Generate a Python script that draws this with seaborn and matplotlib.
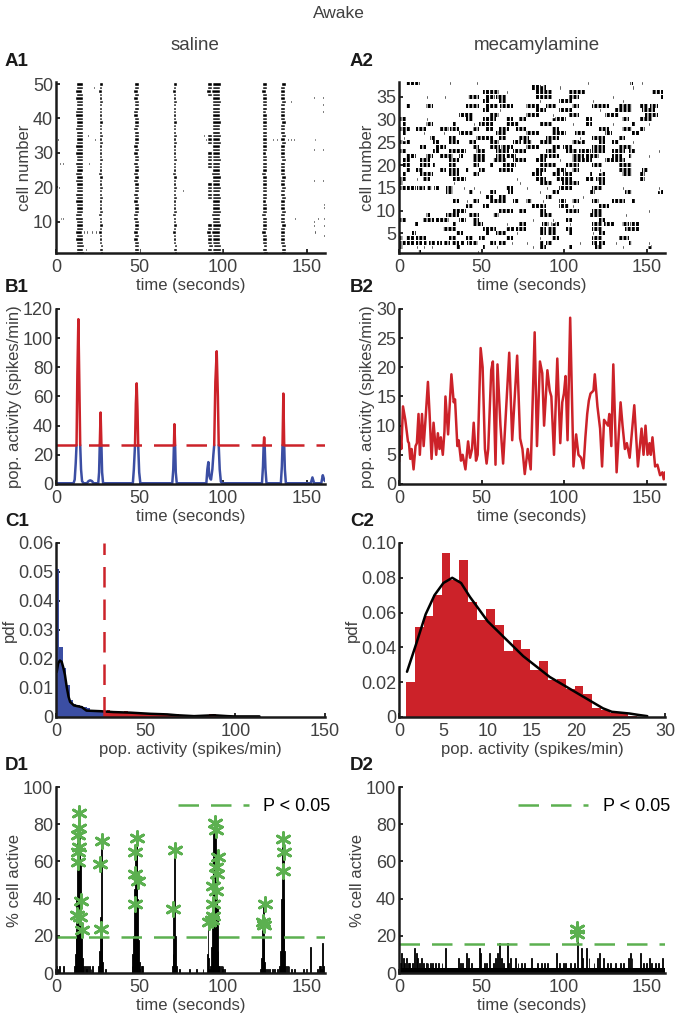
import numpy as np
import matplotlib
matplotlib.use("Agg")
import matplotlib.pyplot as plt
from matplotlib.lines import Line2D
import seaborn as sns

sns.set_theme(style="ticks")
plt.rcParams["font.family"] = ["Liberation Sans", "DejaVu Sans"]
plt.rcParams["hatch.linewidth"] = 0.9

RED = "#cc2229"
BLUE = "#3b4ea3"
GREEN = "#5cb050"
GREY = "#404040"

# ---------------- data ----------------
# A1 saline raster: burst windows (s), per-cell onset lag (s), extra spikes
a1_bursts = [(11.6, 16.0), (25.6, 27.6), (46.3, 49.3), (69.9, 71.9),
             (93.2, 98.2), (123.2, 126.1), (134.1, 137.1)]
a1_lag = [0.6, 0.3, 0.5, 0.1, 0.0, 0.2, -0.3, 0.1, 0.4, 0.2,
          0.0, -0.2, 0.3, 0.1, 0.2, -0.1, 0.3, 0.0, 0.2, 0.4,
          0.1, 0.0, 0.3, -0.2, 0.1, 0.2, 0.0, 0.3, 0.1, -0.1,
          0.2, 0.0, 0.3, 0.1, 0.4, 0.2, 0.0, 0.1, 0.3, 0.2,
          0.0, -0.1, 0.2, 0.1, 0.3, 0.0, 0.2, -0.2, 0.1, 0.3]
a1_early_window = (90.2, 93.2)
a1_early_cells = [2, 3, 4, 5, 6, 7, 8, 9, 17, 18, 19, 20, 21, 26, 27, 28,
                  29, 30, 33, 34, 35, 47, 48, 49, 50]
a1_extra_t = [0.8, 2.0, 3.6, 1.4, 2.4, 3.8, 17.4, 21.4, 16.4, 18.0, 19.6, 21.2,
              23.4, 18.8, 21.4, 22.8, 19.4, 22.4, 52.4, 53.6, 73.4, 75.4, 82.4,
              88.0, 86.6, 89.2, 100.4, 102.2, 129.4, 131.6, 138.4, 140.2, 141.8,
              130.8, 140.0, 142.4, 146.4, 153.8, 154.4, 155.4, 153.8, 153.8,
              153.8, 153.8, 154.4, 156.4, 159.4, 159.4, 159.4, 159.4, 159.0,
              159.4, 160.0, 160.0, 160.0, 160.0, 160.0]
a1_extra_cell = [34, 27, 27, 20, 11, 11, 2, 4, 7, 7, 7, 7, 7, 35, 34, 34, 27, 49,
                 14, 14, 19, 19, 3, 35, 34, 34, 47, 47, 34, 34, 34, 34, 34,
                 4, 45, 11, 1, 46, 34, 34, 31, 22, 10, 9, 7, 11, 42, 44, 46, 31,
                 26, 22, 15, 14, 11, 9, 6]

# A2 mecamylamine raster: firing intervals (start, end) in s for cells 1..38
a2_cells = [
    [(11.6, 13.6), (47.2, 48.0), (96.6, 97.4), (145.6, 146.4)],
    [(0.4, 2.4), (10.4, 11.2), (14.5, 15.3), (19.5, 20.3), (34.5, 37.5), (50.6, 52.6),
     (58.6, 59.4), (68.7, 69.5), (80.7, 81.5), (84.7, 88.8), (102.8, 104.8),
     (112.9, 113.7), (118.9, 122.9), (126.9, 127.7), (134.9, 135.7), (139.0, 139.8),
     (151.0, 153.0)],
    [(0.4, 4.0), (5.0, 9.0), (10.0, 14.0), (15.0, 17.0), (18.0, 22.0), (23.0, 26.0),
     (27.0, 31.0), (32.0, 36.0), (37.0, 40.0), (41.0, 44.0), (45.0, 48.0),
     (54.6, 58.6), (60.6, 64.7), (67.7, 68.5), (76.7, 77.5), (84.7, 88.0),
     (89.0, 92.8), (100.8, 101.6), (108.8, 109.6), (116.9, 120.0), (121.0, 124.9),
     (130.9, 131.7), (139.0, 141.0), (151.0, 151.8)],
    [(0.4, 2.4), (4.4, 9.0), (10.0, 16.5), (30.5, 34.5), (40.6, 44.6), (48.6, 52.6),
     (64.7, 68.7), (84.7, 85.5), (92.8, 96.8), (116.9, 122.9), (132.9, 139.0)],
    [(8.0, 10.0), (24.5, 25.3), (34.5, 38.6), (52.6, 54.6), (58.6, 64.7), (70.7, 71.5),
     (84.7, 89.0), (90.0, 94.8), (102.8, 104.8), (116.9, 117.7), (120.9, 124.9),
     (145.0, 145.8)],
    [(26.5, 34.5), (50.6, 58.6), (64.7, 70.0), (71.0, 76.7), (84.7, 89.0),
     (90.0, 94.8), (100.8, 104.8), (116.9, 122.9), (136.9, 145.0)],
    [(9.6, 11.6), (32.5, 34.5), (44.6, 50.6), (64.7, 65.5), (72.7, 76.7),
     (86.7, 91.0), (92.0, 96.8), (102.8, 103.6), (116.9, 123.0), (124.0, 130.9),
     (134.9, 139.0), (140.0, 145.0)],
    [(0.4, 4.4), (14.5, 21.0), (22.0, 30.5), (36.5, 40.6), (44.6, 48.6), (68.7, 69.5),
     (80.7, 81.5), (92.8, 93.6), (100.8, 104.8), (120.9, 124.9)],
    [(16.5, 18.5), (28.5, 36.5), (42.6, 48.6), (56.6, 60.6), (84.7, 92.8),
     (114.9, 122.9), (136.9, 137.7)],
    [(32.5, 40.6), (60.6, 68.7), (72.7, 76.7), (84.7, 88.8), (100.8, 108.8),
     (116.9, 122.9), (151.0, 151.8)],
    [(40.6, 44.6), (50.6, 54.6), (80.7, 88.8), (96.8, 102.8), (104.8, 105.6),
     (120.9, 126.9)],
    [(32.5, 36.5), (40.6, 41.4), (44.6, 48.6), (54.6, 64.7), (68.7, 72.7),
     (76.7, 80.7), (86.7, 87.5), (96.8, 100.8), (104.8, 108.8), (116.9, 120.9),
     (128.9, 136.9), (141.0, 143.0)],
    [(52.6, 56.6), (60.6, 64.7), (88.8, 92.8), (110.8, 111.6)],
    [(28.5, 32.5), (42.6, 44.6), (48.6, 49.4), (54.6, 58.6), (65.7, 68.7),
     (84.7, 85.5), (92.8, 96.8), (114.9, 118.9), (136.9, 141.0), (157.0, 160.0)],
    [(0.4, 4.4), (5.0, 10.0), (11.0, 16.0), (17.0, 20.0), (21.0, 24.5), (28.5, 32.5),
     (38.6, 39.4), (44.6, 45.4), (64.7, 68.7), (76.7, 77.5), (88.8, 89.6),
     (96.8, 104.8), (116.9, 122.9), (134.9, 135.7), (145.0, 145.8), (157.0, 157.8)],
    [(0.4, 2.4), (12.4, 13.2), (24.5, 25.3), (32.5, 33.3), (50.6, 51.4), (72.7, 73.5),
     (84.7, 92.8), (98.8, 108.8), (120.9, 124.9), (145.0, 145.8)],
    [(0.4, 4.4), (10.4, 11.2), (14.5, 18.5), (32.5, 40.6), (56.6, 57.4), (70.7, 71.5),
     (82.7, 88.8), (94.8, 104.8), (112.9, 118.0), (119.0, 124.9), (145.0, 149.0)],
    [(2.4, 4.4), (12.4, 20.5), (30.5, 36.5), (44.6, 48.6), (80.7, 86.7),
     (92.8, 98.0), (99.0, 104.8), (114.9, 116.9), (120.9, 124.9), (134.9, 141.0),
     (145.0, 149.0)],
    [(4.4, 6.4), (10.4, 14.5), (24.5, 28.5), (30.5, 36.5), (40.6, 42.6), (48.6, 52.6),
     (60.6, 68.7), (82.7, 88.8), (94.8, 100.8), (104.8, 108.8), (120.9, 121.7),
     (132.9, 141.0), (147.0, 151.0)],
    [(2.4, 6.4), (12.4, 18.5), (20.5, 22.5), (30.5, 34.5), (44.6, 48.6), (54.6, 56.6),
     (62.7, 70.7), (84.7, 94.8), (100.8, 108.8), (116.9, 122.9), (132.9, 141.0)],
    [(2.4, 6.4), (12.4, 18.5), (30.5, 36.5), (44.6, 52.6), (56.6, 64.7), (68.7, 76.7),
     (82.7, 88.8), (96.8, 97.6), (104.8, 110.0), (111.0, 116.9), (124.9, 130.0),
     (131.0, 136.9)],
    [(4.4, 10.4), (16.5, 20.5), (24.5, 32.5), (36.5, 38.6), (44.6, 52.6),
     (58.6, 64.0), (65.0, 70.7), (84.7, 90.0), (91.0, 96.8), (104.8, 112.0),
     (113.0, 120.9), (128.9, 134.9), (139.0, 141.0), (151.0, 151.8)],
    [(0.4, 4.4), (20.5, 24.5), (30.5, 40.6), (46.6, 52.6), (58.6, 66.7), (68.7, 76.7),
     (88.8, 94.8), (100.8, 108.0), (109.0, 116.0), (117.0, 124.9), (128.9, 136.9),
     (139.0, 143.0), (157.0, 157.8)],
    [(12.4, 16.5), (22.5, 28.5), (44.6, 48.6), (54.6, 61.0), (62.0, 68.7),
     (76.7, 84.7), (92.8, 98.0), (99.0, 104.8), (116.9, 124.9), (132.9, 141.0)],
    [(0.4, 6.4), (20.5, 24.5), (30.5, 36.5), (42.6, 46.6), (54.6, 60.6), (68.7, 74.0),
     (75.0, 80.7), (84.7, 92.8), (104.8, 112.9), (120.9, 124.9), (128.9, 132.9),
     (141.0, 141.8)],
    [(2.4, 3.2), (18.5, 22.5), (30.5, 34.5), (46.6, 56.6), (60.6, 64.7), (72.7, 78.7),
     (88.8, 96.8), (108.8, 109.6), (116.9, 124.9), (132.9, 136.9)],
    [(2.4, 4.4), (14.5, 15.3), (26.5, 27.3), (36.5, 44.6), (58.6, 64.7), (76.7, 84.7),
     (92.8, 100.8), (106.8, 112.9), (124.9, 128.9), (141.0, 145.0)],
    [(0.4, 6.4), (10.4, 16.5), (24.5, 30.0), (31.0, 36.5), (44.6, 48.6), (52.6, 56.6),
     (60.6, 66.7), (70.7, 76.7), (92.8, 96.8), (120.9, 126.9), (134.9, 141.0),
     (145.0, 149.0)],
    [(2.4, 4.4), (16.5, 20.5), (32.5, 34.5), (44.6, 45.4), (48.6, 56.6), (64.7, 72.7),
     (84.7, 92.8), (104.8, 105.6), (112.9, 116.9), (128.9, 129.7), (141.0, 143.0),
     (151.0, 151.8)],
    [(0.4, 4.4), (6.4, 7.2), (16.5, 17.3), (40.6, 44.6), (50.6, 58.6), (64.7, 68.7),
     (72.7, 76.7), (92.8, 100.8), (112.9, 116.9), (134.9, 139.0), (145.0, 153.0)],
    [(24.5, 25.3), (36.5, 44.6), (54.6, 60.6), (76.7, 84.7), (92.8, 93.6),
     (102.8, 108.8), (124.9, 132.9), (149.0, 157.0)],
    [(50.6, 54.6), (60.6, 61.4), (68.7, 69.5), (82.7, 88.8), (96.8, 104.8),
     (120.9, 121.7), (130.9, 141.0), (147.0, 155.0)],
    [(4.4, 6.4), (16.5, 20.5), (40.6, 48.6), (52.6, 60.0), (61.0, 68.7), (76.7, 84.7),
     (88.8, 94.8), (104.8, 108.8), (116.9, 126.9), (132.9, 141.0), (145.0, 151.0),
     (152.0, 157.0)],
    [(50.6, 54.6), (60.6, 64.7), (84.7, 85.5), (96.8, 104.8), (116.9, 117.7),
     (134.9, 135.7)],
    [(3.4, 4.2), (6.4, 7.2), (16.5, 17.3), (18.5, 19.3), (27.5, 28.3), (41.6, 48.6),
     (52.6, 58.0), (59.0, 64.7), (82.7, 92.8), (102.8, 108.8), (128.9, 129.7),
     (145.0, 145.8), (158.0, 160.0)],
    [(50.6, 60.6), (64.7, 65.5), (82.7, 92.8), (102.8, 112.9), (135.9, 136.7),
     (153.0, 160.0)],
    [(80.7, 88.8), (96.8, 97.6), (141.0, 141.8), (145.0, 145.8)],
    [(4.4, 12.4), (30.5, 31.3), (46.6, 47.4), (65.7, 66.5), (85.7, 86.5),
     (113.9, 114.7), (140.0, 141.6), (146.6, 147.4)],
]

# B1 saline population activity (spikes/min)
b1_t = [0, 10.5, 11.2, 11.8, 12.3, 12.8, 13.4, 13.9, 14.5, 15.0, 15.6, 16.5,
        18.5, 19.5, 20.5, 21.5, 22.5, 25.3, 25.8, 26.2, 26.7, 27.2, 27.6, 28.2,
        46.0, 46.6, 47.3, 47.8, 48.3, 48.8, 49.2, 49.8, 50.5,
        69.6, 70.2, 70.6, 70.9, 71.3, 71.7, 72.3,
        90.0, 90.6, 91.2, 91.7, 92.2, 92.8, 93.6, 94.2, 94.7, 95.4, 96.2, 96.9,
        97.4, 98.0, 98.7, 99.5,
        123.3, 123.9, 124.3, 124.6, 124.9, 125.4, 126.0,
        134.6, 135.2, 135.6, 136.1, 136.6, 137.0, 137.6,
        152.5, 153.5, 154.5, 158.8, 159.7, 160.5, 161.0]
b1_v = [0.5, 0.5, 3, 14, 26.6, 75, 113, 75, 26.6, 10, 2, 0.5,
        0.5, 2, 2.5, 2, 0.5, 0.5, 8, 26.6, 49, 26.6, 8, 0.5,
        0.5, 10, 26.6, 55, 69, 50, 26.6, 8, 0.5,
        0.5, 10, 26.6, 41, 26.6, 8, 0.5,
        0.5, 10, 15, 6, 4, 3, 10, 20, 26.6, 70, 91, 60,
        26.6, 10, 1.5, 0.5,
        0.5, 12, 26.6, 32, 26.6, 10, 0.5,
        0.5, 12, 26.6, 62, 26.6, 10, 0.5,
        0.5, 4.5, 0.5, 0.5, 6, 3, 2]
b1_threshold = 26.6

# B2 mecamylamine population activity (spikes/min)
b2_t = [0, 0.8, 1.4, 2.4, 3.8, 5.4, 6.0, 6.8, 7.6, 8.8, 10.0, 10.8, 11.8, 12.6,
        13.9, 14.9, 15.9, 17.5, 18.5, 19.7, 20.9, 22.5, 23.5, 24.5, 25.3, 26.5,
        27.5, 28.1, 29.7, 31.7, 33.1, 33.9, 35.3, 36.1, 37.5, 38.5, 40.2, 41.8,
        43.0, 44.2, 45.2, 46.6, 47.6, 49.4, 50.6, 52.0, 53.0, 54.0, 55.8, 56.8,
        58.4, 59.6, 61.4, 63.0, 66.7, 68.5, 71.5, 73.3, 74.7, 76.1, 77.9, 79.7,
        82.1, 83.5, 85.3, 86.7, 87.8, 89.8, 91.2, 92.2, 93.8, 95.8, 97.6, 98.8,
        99.8, 100.8, 102.0, 103.6, 105.6, 107.2, 108.6, 110.2, 111.6, 112.8,
        113.9, 114.9, 115.9, 117.7, 118.5, 120.1, 121.7, 122.9, 124.1, 126.5,
        127.3, 128.5, 129.7, 131.7, 134.1, 135.3, 136.7, 137.9, 139.6, 142.4,
        144.6, 146.8, 148.0, 149.2, 150.4, 151.6, 152.4, 153.4, 155.0, 156.4,
        158.0, 159.4, 160.2, 161.0]
b2_v = [3.8, 8.1, 6.0, 13.3, 11.0, 7.3, 7.0, 4.3, 6.0, 2.5, 6.5, 7.0, 12.0, 5.0,
        12.0, 6.5, 10.5, 17.5, 12.0, 4.3, 10.5, 5.0, 8.7, 6.0, 8.0, 5.0,
        9.0, 15.0, 8.5, 18.8, 14.0, 14.5, 6.5, 7.5, 4.0, 5.0, 2.5, 7.3,
        4.5, 6.0, 10.5, 4.0, 5.0, 23.3, 20.0, 6.0, 3.5, 6.0, 19.5, 21.0,
        3.3, 20.5, 10.0, 3.5, 22.5, 7.5, 22.0, 7.8, 6.0, 1.7, 6.0, 2.5,
        26.0, 6.5, 21.0, 19.0, 10.0, 19.5, 16.0, 15.0, 5.0, 21.5, 7.0, 14.0,
        15.5, 18.5, 7.5, 28.5, 3.0, 8.5, 5.0, 4.5, 2.7, 8.0,
        12.0, 14.3, 15.5, 16.0, 18.8, 13.3, 9.5, 3.0, 11.0, 10.0,
        12.0, 6.5, 20.5, 2.0, 14.0, 10.0, 6.0, 7.0, 4.5, 13.5,
        3.0, 9.5, 5.0, 10.0, 5.0, 7.0, 5.0, 8.0, 3.0, 3.3,
        1.5, 2.0, 0.8, 2.0]

# C1 saline histogram (pdf) and density curve
c1_bin_width = 1.9
c1_blue = [0.051, 0.024, 0.017, 0.011, 0.006, 0.0045, 0.004, 0.0038, 0.0035,
           0.003, 0.0025, 0.0022, 0.002, 0.002]
c1_red = [0.0022, 0.0025, 0.0020, 0.0019, 0.0018, 0.0018, 0.0020, 0.0017, 0.0016, 0.0017,
          0.0015, 0.0014, 0.0015, 0.0013, 0.0012, 0.0013, 0.0012, 0.0011, 0.0012, 0.0010,
          0.0011, 0.0009, 0.0008, 0.0007, 0.0006, 0.0005, 0.0004, 0.0004, 0.0005, 0.0006,
          0.0008, 0.0009, 0.0010, 0.0008, 0.0006, 0.0004, 0.0003, 0.0003, 0.0004, 0.0005,
          0.0004, 0.0003, 0.0003, 0.0004, 0.0003]
c1_kde_x = [0.4, 1.2, 2.2, 3.2, 4.1, 5.0, 6.0, 7.0, 7.9, 10.0, 14.4, 17.0, 24.7,
            32.0, 41.5, 52.7, 62.0, 67.7, 77.0, 88.0, 95.7, 99.4, 113.5]
c1_kde_y = [0.0155, 0.0185, 0.0195, 0.019, 0.017, 0.0145, 0.0103, 0.007, 0.0052,
            0.004, 0.0034, 0.0022, 0.002, 0.0017, 0.0015, 0.0011, 0.0009, 0.0006,
            0.0003, 0.0006, 0.0003, 0.0002, 0.0002]

# C2 mecamylamine histogram (pdf) and density curve
c2_start = 0.8
c2_heights = [0.020, 0.052, 0.058, 0.070, 0.094, 0.079, 0.090, 0.066, 0.056, 0.062,
              0.053, 0.038, 0.044, 0.039, 0.027, 0.032, 0.021, 0.022, 0.016, 0.018,
              0.0134, 0.0054, 0.0042, 0.0023, 0.0023, 0.0004]
c2_kde_x = [0.9, 2, 3, 4, 5, 6, 7, 8, 9, 10, 11, 12, 13, 14, 15, 16, 17, 18, 19,
            20, 21, 22, 23, 24, 25, 26, 27, 28]
c2_kde_y = [0.026, 0.043, 0.059, 0.070, 0.077, 0.080, 0.077, 0.069, 0.062, 0.055,
            0.050, 0.045, 0.040, 0.035, 0.031, 0.027, 0.023, 0.020, 0.017, 0.014,
            0.011, 0.008, 0.005, 0.003, 0.0025, 0.002, 0.0012, 0.0005]

# D1 saline % cells active (0.5 s bins) and significant events
d1_t = [0.5, 1.0, 2.0, 4.5,
        11.0, 11.5, 12.0, 12.5, 13.0, 13.5, 14.0, 14.5, 15.0, 15.5, 16.0, 16.5,
        17.5, 18.5, 19.0, 20.0, 21.0, 22.0,
        25.5, 26.0, 26.5, 27.0, 27.5, 28.0, 29.5,
        45.5, 46.0, 46.5, 47.0, 47.5, 48.0, 48.5, 49.0, 49.5, 50.0, 51.0, 52.0,
        69.5, 70.0, 70.5, 71.0, 71.5, 72.0, 74.0,
        80.0, 84.0, 88.0,
        90.5, 91.0, 91.5, 92.0, 92.5, 93.0, 93.5, 94.0, 94.5, 95.0, 95.5, 96.0,
        96.5, 97.0, 97.5, 98.0, 99.0, 100.0, 101.0,
        122.5, 123.0, 123.5, 124.0, 124.5, 125.0, 125.5, 126.5, 128.0, 129.5,
        131.0, 132.5,
        134.0, 134.5, 135.0, 135.5, 136.0, 136.5, 137.0, 137.5, 138.5, 139.5,
        141.0, 143.0,
        148.0, 152.5, 156.5, 157.5, 158.0, 158.5, 159.0, 159.5, 160.0]
d1_v = [4, 2, 4, 4,
        4, 10, 20, 40, 70, 86, 80, 60, 38, 20, 8, 4,
        4, 2, 4, 4, 2, 4,
        4, 12, 30, 71, 25, 6, 2,
        4, 10, 20, 45, 65, 72, 70, 40, 18, 6, 4, 4,
        4, 10, 30, 66, 20, 4, 2,
        2, 2, 2,
        10, 28, 8, 2, 4, 14, 40, 60, 75, 80, 78, 60, 35, 12, 4, 4, 4, 4, 2,
        2, 8, 25, 37, 18, 6, 2, 2, 2, 2, 2, 2,
        4, 12, 40, 72, 66, 40, 12, 4, 4, 4, 2, 2,
        2, 14, 2, 4, 4, 4, 2, 16, 4]
d1_star_t = [13.8, 13.9, 13.4, 13.8, 13.0, 13.4, 14.8, 12.8, 14.4, 15.4,
             27.3, 26.3, 26.7,
             48.3, 47.3, 47.3, 49.3, 47.5,
             71.2, 70.2,
             95.2, 95.8, 97.1, 95.8, 96.2, 94.2, 95.8, 94.2, 94.2, 91.8, 93.4,
             125.1, 124.1, 124.7,
             136.0, 136.6, 135.6]
d1_star_v = [86, 78, 74, 68, 65, 59.5, 39, 31, 30, 23,
             70.8, 58.8, 23.7,
             72.6, 65, 53, 49.3, 37.3,
             66.3, 34.4,
             80.6, 77, 62.4, 57, 53, 47, 44, 37.3, 30.8, 27.4, 28.7,
             37.3, 27.2, 25.6,
             72, 65, 55]
d1_threshold = 19.6

# D2 mecamylamine % cells active (baseline level plus bins above it)
d2_base = 2.7
d2_t = [1, 1.5, 2.5, 3.5, 4.5, 5.5, 6.5, 8, 9.5, 10.5, 11, 12.5, 13.5, 15, 16.5,
        17.5, 19, 20.5, 22, 24, 26, 28, 36, 37, 38.5, 41, 42, 44, 48.5, 49.5,
        51.5, 53, 55, 57, 58.5, 59.5, 61, 62, 63, 65.5, 66.5, 67.5, 70.5, 72, 74,
        76, 80, 84, 86, 88, 90, 95.5, 97, 99.5, 101, 104, 106, 108, 110.5, 111,
        113.5, 115, 118, 120, 121.5, 124, 126, 128, 131, 134, 136, 139, 140, 141,
        146, 148, 150, 151.5, 153, 155, 157, 159.5]
d2_v = [5.4, 10.8, 8.1, 5.4, 8.1, 5.4, 5.4, 5.4, 13.5, 10.8, 8.1, 5.4, 8.1, 5.4,
        5.4, 5.4, 5.4, 5.4, 5.4, 5.4, 5.4, 13.5, 8.1, 5.4, 5.4, 10.8, 8.1, 5.4,
        13.5, 10.8, 5.4, 5.4, 10.8, 5.4, 8.1, 10.8, 16.2, 8.1, 5.4, 16.2, 5.4,
        8.1, 8.1, 5.4, 5.4, 5.4, 8.1, 5.4, 5.4, 5.4, 5.4, 10.8, 5.4, 5.4, 5.4,
        5.4, 5.4, 21.6, 13.5, 8.1, 13.5, 8.1, 5.4, 8.1, 10.8, 8.1, 5.4, 5.4, 5.4,
        5.4, 5.4, 8.1, 10.8, 8.1, 10.8, 5.4, 5.4, 8.1, 5.4, 5.4, 5.4, 8.1]
d2_star_t = [107.8, 107.8]
d2_star_v = [21.0, 23.5]
d2_threshold = 15.6

# ---------------- figure ----------------
fig = plt.figure(figsize=(6.77, 10.14), dpi=100)

L_LEFT, R_LEFT = 0.0827, 0.5894
L_W, R_W = 0.3973, 0.3929
rows = {"A": (0.7505, 0.1686), "B": (0.5227, 0.1726),
        "C": (0.2929, 0.1716), "D": (0.0404, 0.1834)}


def make_ax(row, col):
    b, h = rows[row]
    left, w = (L_LEFT, L_W) if col == 0 else (R_LEFT, R_W)
    ax = fig.add_axes([left, b, w, h])
    sns.despine(ax=ax)
    for s in ("left", "bottom"):
        ax.spines[s].set_linewidth(1.8)
        ax.spines[s].set_color("#1a1a1a")
    ax.tick_params(direction="in", length=3, width=1.3, colors="#1a1a1a",
                   labelcolor=GREY, labelsize=13, pad=2)
    ax.tick_params(axis="x", pad=4)
    ax.set_facecolor("white")
    return ax


def style_label(ax, xl=None, yl=None):
    if xl:
        ax.set_xlabel(xl, fontsize=12, color=GREY, labelpad=1.5)
    if yl:
        ax.set_ylabel(yl, fontsize=12, color=GREY, labelpad=1)


DASH = (8.2, 4.8)

# A1
ax = make_ax("A", 0)
for s, e in a1_bursts:
    for c, lag in enumerate(a1_lag, start=1):
        ax.broken_barh([(s + lag, e - s)], (c - 0.48, 0.96), facecolors="black",
                       antialiased=False)
for c in a1_early_cells:
    s, e = a1_early_window
    ax.broken_barh([(s + a1_lag[c - 1], e - s)], (c - 0.48, 0.96), facecolors="black",
                   antialiased=False)
for t, c in zip(a1_extra_t, a1_extra_cell):
    ax.broken_barh([(t, 1.0)], (c - 0.45, 0.9), facecolors="black", antialiased=False)
ax.set_xlim(0, 161)
ax.set_ylim(0.9, 50.6)
ax.set_xticks([0, 50, 100, 150])
ax.set_yticks([10, 20, 30, 40, 50])
style_label(ax, "time (seconds)", "cell number")

# A2
ax = make_ax("A", 1)
for c, spans in enumerate(a2_cells, start=1):
    long_spans = [(s, e - s) for s, e in spans if e - s > 1.5]
    short_spans = [(s, max(e - s, 1.1)) for s, e in spans if e - s <= 1.5]
    ax.broken_barh(long_spans, (c - 0.44, 0.88), facecolors="black",
                   edgecolors="white", linewidth=0, hatch="||||")
    ax.broken_barh(short_spans, (c - 0.44, 0.88), facecolors="black")
ax.set_xlim(0, 161)
ax.set_ylim(0.7, 38.2)
ax.set_xticks([0, 50, 100, 150])
ax.set_yticks([5, 10, 15, 20, 25, 30, 35])
style_label(ax, "time (seconds)", "cell number")

# B1
ax = make_ax("B", 0)
b1_arr = np.array(b1_v, dtype=float)
blue_part = np.where(b1_arr <= b1_threshold, b1_arr, np.nan)
red_part = np.where(b1_arr >= b1_threshold, b1_arr, np.nan)
ax.plot(b1_t, blue_part, color=BLUE, lw=1.8)
ax.plot(b1_t, red_part, color=RED, lw=1.8)
ax.plot([0, 161], [b1_threshold, b1_threshold], color=RED, lw=1.8, dashes=DASH)
ax.set_xlim(0, 161)
ax.set_ylim(0, 120)
ax.set_xticks([0, 50, 100, 150])
ax.set_yticks(range(0, 121, 20))
style_label(ax, "time (seconds)", "pop. activity (spikes/min)")

# B2
ax = make_ax("B", 1)
sns.lineplot(x=b2_t, y=b2_v, ax=ax, color=RED, lw=1.8)
ax.set_xlim(0, 161)
ax.set_ylim(0, 30)
ax.set_xticks([0, 50, 100, 150])
ax.set_yticks(range(0, 31, 5))
style_label(ax, "time (seconds)", "pop. activity (spikes/min)")

# C1
ax = make_ax("C", 0)
blue_edges = np.arange(len(c1_blue) + 1) * c1_bin_width
red_edges = blue_edges[-1] + np.arange(len(c1_red) + 1) * c1_bin_width
sns.histplot(x=list(blue_edges[:-1] + c1_bin_width / 2), weights=c1_blue,
             binwidth=c1_bin_width, binrange=(blue_edges[0], blue_edges[-1]),
             ax=ax, color=BLUE, alpha=1, linewidth=0)
sns.histplot(x=list(red_edges[:-1] + c1_bin_width / 2), weights=c1_red,
             binwidth=c1_bin_width, binrange=(red_edges[0], red_edges[-1]),
             ax=ax, color=RED, alpha=1, linewidth=0)
sns.lineplot(x=c1_kde_x, y=c1_kde_y, ax=ax, color="black", lw=1.8)
ax.plot([b1_threshold, b1_threshold], [0, 0.06], color=RED, lw=1.8, dashes=DASH)
ax.set_xlim(0, 150)
ax.set_ylim(0, 0.06)
ax.set_xticks([0, 50, 100, 150])
ax.set_yticks([0, 0.01, 0.02, 0.03, 0.04, 0.05, 0.06])
ax.set_yticklabels(["0", "0.01", "0.02", "0.03", "0.04", "0.05", "0.06"])
style_label(ax, "pop. activity (spikes/min)", "pdf")

# C2
ax = make_ax("C", 1)
c2_edges = c2_start + np.arange(len(c2_heights) + 1)
sns.histplot(x=list(c2_edges[:-1] + 0.5), weights=c2_heights,
             binwidth=1, binrange=(c2_edges[0], c2_edges[-1]),
             ax=ax, color=RED, alpha=1, linewidth=0)
sns.lineplot(x=c2_kde_x, y=c2_kde_y, ax=ax, color="black", lw=1.8)
ax.set_xlim(0, 30)
ax.set_ylim(0, 0.10)
ax.set_xticks(range(0, 31, 5))
ax.set_yticks([0, 0.02, 0.04, 0.06, 0.08, 0.10])
ax.set_yticklabels(["0", "0.02", "0.04", "0.06", "0.08", "0.10"])
style_label(ax, "pop. activity (spikes/min)", "pdf")

# D panels
star = (6, 2, 0)
for col, (tt, vv, st, sv, thr) in enumerate([
        (d1_t, d1_v, d1_star_t, d1_star_v, d1_threshold),
        (d2_t, d2_v, d2_star_t, d2_star_v, d2_threshold)]):
    ax = make_ax("D", col)
    if col == 1:
        ax.fill_between([0, 161], 0, d2_base, color="black", lw=0)
    ax.bar(tt, vv, width=0.5, color="black", edgecolor="black", linewidth=0.6)
    ax.plot([0, 161], [thr, thr], color=GREEN, lw=1.8, dashes=DASH)
    sns.scatterplot(x=st, y=sv, ax=ax, marker=star, s=100, color=GREEN,
                    edgecolor=GREEN, linewidth=2.0, zorder=5)
    h = [Line2D([], [], color=GREEN, lw=1.8, dashes=DASH)]
    ax.legend(h, ["P < 0.05"], loc="upper right", bbox_to_anchor=(1.06, 1.0),
              frameon=False, fontsize=13, handlelength=3.9, borderaxespad=0.2,
              handletextpad=0.8, labelcolor="black")
    ax.set_xlim(0, 161)
    ax.set_ylim(0, 100)
    ax.set_xticks([0, 50, 100, 150])
    ax.set_yticks(range(0, 101, 20))
    style_label(ax, "time (seconds)", "% cell active")

# titles and panel letters
fig.text(0.5, 1 - 13 / 1014, "Awake", ha="center", va="center", fontsize=12.5, color=GREY)
fig.text(195 / 677, 1 - 45 / 1014, "saline", ha="center", va="center", fontsize=13.5,
         color=GREY)
fig.text(537 / 677, 1 - 45 / 1014, "mecamylamine", ha="center", va="center", fontsize=13.5,
         color=GREY)
for lab, x, y in [("A1", 5, 62), ("A2", 350, 62), ("B1", 5, 287), ("B2", 350, 287),
                  ("C1", 5, 521), ("C2", 350, 521), ("D1", 5, 766), ("D2", 350, 766)]:
    fig.text(x / 677, 1 - y / 1014, lab, ha="left", va="center", fontsize=13.5,
             fontweight="bold", color="#1a1a1a")

fig.savefig("out.png", dpi=100, facecolor="white")
